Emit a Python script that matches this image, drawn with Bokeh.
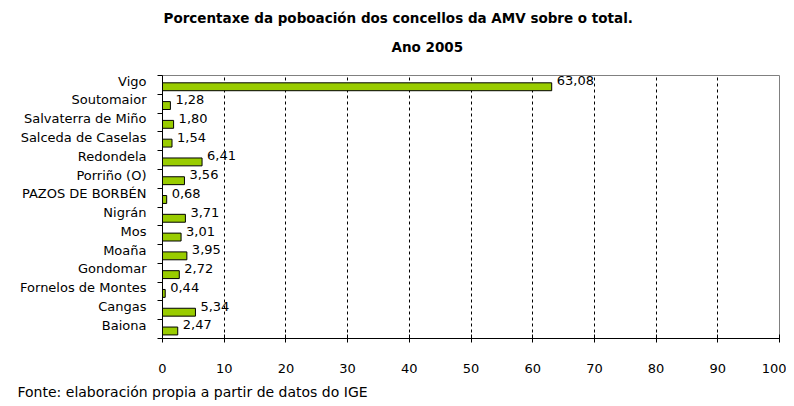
from bokeh.plotting import figure
from bokeh.models import ColumnDataSource, FixedTicker, Range1d, Title
from bokeh.core.properties import value
from bokeh.embed import file_html
from bokeh.resources import INLINE

categories = ["Vigo", "Soutomaior", "Salvaterra de Miño", "Salceda de Caselas",
              "Redondela", "Porriño (O)", "PAZOS DE BORBÉN", "Nigrán", "Mos",
              "Moaña", "Gondomar", "Fornelos de Montes", "Cangas", "Baiona"]
values = [63.08, 1.28, 1.80, 1.54, 6.41, 3.56, 0.68, 3.71, 3.01, 3.95,
          2.72, 0.44, 5.34, 2.47]
x_ticks = [0, 10, 20, 30, 40, 50, 60, 70, 80, 90, 100]
title_line1 = "Porcentaxe da poboación dos concellos da AMV sobre o total."
title_line2 = "Ano 2005"
source_note = "Fonte: elaboración propia a partir de datos do IGE"

FONT = "DejaVu Sans"
n = len(categories)
# category i from top -> label tick at integer (n - i); bar centre slightly below
label_pos = [n - i for i in range(n)]
bar_pos = [lp - 0.3 for lp in label_pos]
texts = [f"{v:.2f}".replace(".", ",") for v in values]

src = ColumnDataSource(dict(y=bar_pos, v=values, t=texts))

p = figure(width=786, height=406, output_backend="svg", toolbar_location=None,
           x_range=Range1d(0, 100), y_range=Range1d(0.3, n + 0.3),
           min_border_left=162, min_border_right=7, min_border_bottom=66,
           min_border_top=75)
p.title.visible = False

p.hbar(y="y", left=0, right="v", height=0.42, source=src,
       fill_color="#99CC00", line_color="black", line_width=1)
p.text(x="v", y="y", text="t", source=src, x_offset=5, y_offset=-6,
       text_baseline="middle", text_align="left", text_font=value(FONT),
       text_font_size="13px", text_color="black")

p.outline_line_color = "#808080"
p.outline_line_width = 1
p.background_fill_color = "white"
p.border_fill_color = "white"

p.xgrid.ticker = FixedTicker(ticks=x_ticks[1:-1])
p.xgrid.grid_line_color = "black"
p.xgrid.grid_line_dash = "3 3"
p.xgrid.grid_line_width = 1
p.ygrid.grid_line_color = None

xa = p.xaxis[0]
xa.ticker = FixedTicker(ticks=x_ticks)
xa.axis_line_color = "black"
xa.major_tick_line_color = "black"
xa.major_tick_in = 4
xa.major_tick_out = 4
xa.minor_tick_line_color = None
xa.major_label_text_font = FONT
xa.major_label_text_font_size = "13px"
xa.major_label_text_color = "black"
xa.major_label_standoff = 21

ya = p.yaxis[0]
ya.ticker = FixedTicker(ticks=label_pos, minor_ticks=[k + 0.3 for k in range(n + 1)])
ya.major_label_overrides = {lp: c for lp, c in zip(label_pos, categories)}
ya.major_tick_in = 0
ya.major_tick_out = 0
ya.minor_tick_in = 0
ya.minor_tick_out = 5
ya.minor_tick_line_color = "black"
ya.axis_line_color = "black"
ya.major_label_text_font = FONT
ya.major_label_text_font_size = "13px"
ya.major_label_text_color = "black"
ya.major_label_standoff = 11

p.add_layout(Title(text=title_line2, align="left", offset=229, text_font=FONT,
                   text_font_size="13.5px", text_font_style="bold",
                   text_color="black", standoff=41), "above")
p.add_layout(Title(text=title_line1, align="left", offset=1, text_font=FONT,
                   text_font_size="13.5px", text_font_style="bold",
                   text_color="black", standoff=-19), "above")

p.add_layout(Title(text=source_note, align="left", offset=-145, text_font=FONT,
                   text_font_size="14px", text_font_style="normal",
                   text_color="black", standoff=13), "below")

open("out.html", "w").write(file_html(p, INLINE))
